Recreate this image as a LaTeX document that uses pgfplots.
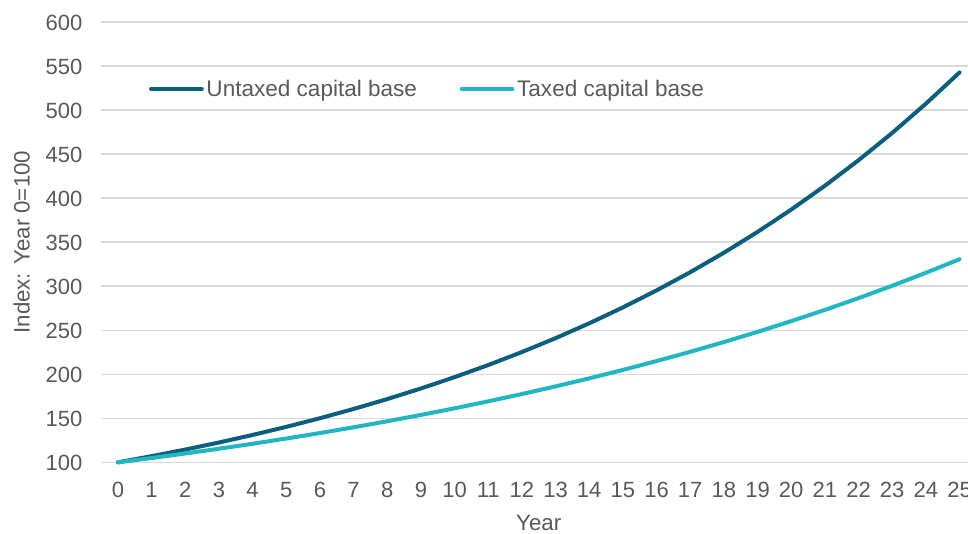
\documentclass[border=0pt]{standalone}
\usepackage{pgfplots}
\pgfplotsset{compat=1.18}
\usepackage{fontspec}
\setmainfont{Liberation Sans}
\definecolor{darkteal}{HTML}{0B5E7E}
\definecolor{lightteal}{HTML}{22B6C3}
\definecolor{txtgray}{HTML}{595959}
\definecolor{gridgray}{HTML}{D9D9D9}
\begin{document}
\begin{tikzpicture}[x=1pt,y=1pt]
\begin{axis}[
  scale only axis,
  width=656pt, height=330pt,
  xmin=-0.5, xmax=25.5,
  ymin=100, ymax=600,
  xtick={0,...,25},
  ytick={100,150,...,600},
  ymajorgrids,
  grid style={gridgray, line width=1.1pt},
  axis line style={draw=none},
  tick style={draw=none},
  axis x line*=bottom,
  axis y line*=left,
  clip=false,
  /pgf/number format/assume math mode=true,
  tick label style={font=\fontsize{16.5pt}{18pt}\selectfont, text=txtgray},
  label style={font=\fontsize{16.7pt}{18pt}\selectfont, text=txtgray},
  xlabel={Year},
  ylabel={Index: Year 0=100},
  xlabel style={yshift=-6pt},
  ylabel style={yshift=5pt},
  yticklabel style={xshift=-10.5pt, text height=12pt, text depth=0pt},
  xticklabel style={yshift=-11pt, text height=12pt, text depth=0pt},
  legend style={draw=none, fill=none, at={(axis cs:0.8,524)}, anchor=west,
    legend columns=2, font=\fontsize{16.9pt}{18pt}\selectfont, text=txtgray,
    /tikz/every even column/.append style={column sep=30pt}},
  legend image code/.code={\draw[#1, line cap=round] (0pt,0pt) -- (38pt,0pt);},
  legend cell align=left,
]
\addplot[darkteal, line width=3pt, line cap=round] coordinates {
(0,100) (1,107) (2,114.49) (3,122.50) (4,131.08) (5,140.26) (6,150.07)
(7,160.58) (8,171.82) (9,183.85) (10,196.72) (11,210.49) (12,225.22)
(13,240.98) (14,257.85) (15,275.90) (16,295.22) (17,315.88) (18,337.99)
(19,361.65) (20,386.97) (21,414.06) (22,443.04) (23,474.05) (24,507.24) (25,542.74)};
\addlegendentry{Untaxed capital base}
\addplot[lightteal, line width=3pt, line cap=round] coordinates {
(0,100) (1,104.9) (2,110.04) (3,115.43) (4,121.09) (5,127.02) (6,133.24)
(7,139.77) (8,146.62) (9,153.81) (10,161.34) (11,169.25) (12,177.54)
(13,186.24) (14,195.37) (15,204.94) (16,214.98) (17,225.52) (18,236.57)
(19,248.16) (20,260.32) (21,273.08) (22,286.46) (23,300.50) (24,315.22) (25,330.67)};
\addlegendentry{Taxed capital base}
\coordinate (bl) at (rel axis cs:0,0);
\coordinate (tr) at (rel axis cs:0,1);
\end{axis}
\pgfresetboundingbox
\useasboundingbox ([xshift=-101*0.75pt, yshift=-71*0.75pt]bl) rectangle ([xshift=866.3*0.75pt, yshift=22*0.75pt]tr);
\end{tikzpicture}
\end{document}
